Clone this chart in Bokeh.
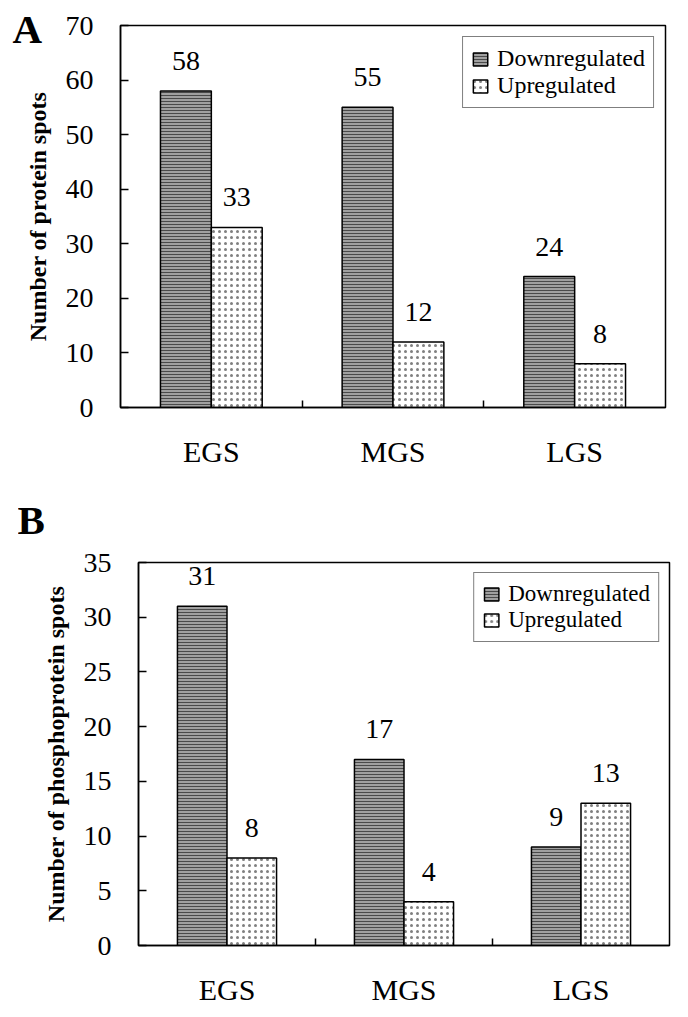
from bokeh.plotting import figure
from bokeh.layouts import column, row
from bokeh.models import FixedTicker, Range1d, ColumnDataSource, Title, Spacer
from bokeh.embed import file_html
from bokeh.resources import INLINE
from bokeh.core.properties import value

# ---- data ----
categories = ["EGS", "MGS", "LGS"]
series_names = ["Downregulated", "Upregulated"]
protein_down = [58, 55, 24]
protein_up = [33, 12, 8]
phospho_down = [31, 17, 9]
phospho_up = [8, 4, 13]
protein_yticks = [0, 10, 20, 30, 40, 50, 60, 70]
phospho_yticks = [0, 5, 10, 15, 20, 25, 30, 35]

FONT = "Liberation Serif"
BAR_W = 0.28


def make_panel(down, up, yticks, ylabel, letter, letter_offset, letter_standoff,
               width, height, borders, legend_font, legend_margin):
    n = len(categories)
    p = figure(width=width, height=height, output_backend="svg", toolbar_location=None,
               x_range=Range1d(0, n), y_range=Range1d(yticks[0], yticks[-1]),
               min_border_left=borders[0], min_border_right=borders[1],
               min_border_top=borders[2], min_border_bottom=borders[3])
    p.background_fill_color = "white"
    p.border_fill_color = "white"
    p.outline_line_color = "black"
    p.outline_line_width = 1.5
    p.xgrid.visible = False
    p.ygrid.visible = False

    p.add_layout(Title(text=letter, align="left", offset=letter_offset,
                       standoff=letter_standoff, vertical_align="bottom",
                       text_font=FONT, text_font_size="41px",
                       text_font_style="bold", text_color="black"), "above")

    xd = [i + 0.5 - BAR_W / 2 for i in range(n)]
    xu = [i + 0.5 + BAR_W / 2 for i in range(n)]
    src_d = ColumnDataSource(dict(x=xd, top=down, lab=[str(v) for v in down]))
    src_u = ColumnDataSource(dict(x=xu, top=up, lab=[str(v) for v in up]))

    p.vbar(x="x", top="top", bottom=0, width=BAR_W, source=src_d,
           fill_color="#a0a0a0", line_color="black", line_width=1.5,
           hatch_pattern="horizontal_line", hatch_color="#4a4a4a", hatch_scale=3,
           hatch_weight=1, legend_label=series_names[0])
    p.vbar(x="x", top="top", bottom=0, width=BAR_W, source=src_u,
           fill_color="white", line_color="black", line_width=1.5,
           hatch_pattern="dot", hatch_color="#808080", hatch_scale=6,
           hatch_weight=1.5, legend_label=series_names[1])

    for src in (src_d, src_u):
        p.text(x="x", y="top", text="lab", source=src, text_align="center",
               text_baseline="alphabetic", y_offset=-30,
               text_font=value(FONT), text_font_size="28px", text_color="black")

    # x axis
    xa = p.xaxis[0]
    xa.ticker = FixedTicker(ticks=[i + 0.5 for i in range(n)],
                            minor_ticks=[i for i in range(1, n)])
    xa.major_label_overrides = {i + 0.5: c for i, c in enumerate(categories)}
    xa.major_tick_in = 0
    xa.major_tick_out = 0
    xa.minor_tick_in = 7
    xa.minor_tick_out = 0
    xa.minor_tick_line_color = "black"
    xa.minor_tick_line_width = 1.5
    xa.axis_line_color = "black"
    xa.axis_line_width = 1.5
    xa.major_label_text_font = FONT
    xa.major_label_text_font_size = "30px"
    xa.major_label_text_color = "black"
    xa.major_label_standoff = 27

    # y axis
    ya = p.yaxis[0]
    ya.ticker = FixedTicker(ticks=yticks, minor_ticks=[])
    ya.major_tick_in = 8
    ya.major_tick_out = 0
    ya.minor_tick_in = 0
    ya.minor_tick_out = 0
    ya.major_tick_line_color = "black"
    ya.major_tick_line_width = 1.5
    ya.axis_line_color = "black"
    ya.axis_line_width = 1.5
    ya.major_label_text_font = FONT
    ya.major_label_text_font_size = "28px"
    ya.major_label_text_color = "black"
    ya.major_label_standoff = 27
    ya.axis_label = ylabel
    ya.axis_label_text_font = FONT
    ya.axis_label_text_font_style = "bold"
    ya.axis_label_text_font_size = "24px"
    ya.axis_label_text_color = "black"
    ya.axis_label_standoff = 12

    # legend
    lg = p.legend[0]
    lg.location = "top_right"
    lg.border_line_color = "black"
    lg.border_line_width = 1.5
    lg.background_fill_color = "white"
    lg.background_fill_alpha = 1
    lg.label_text_font = FONT
    lg.label_text_font_size = legend_font
    lg.label_text_color = "black"
    lg.glyph_width = 18
    lg.glyph_height = 16
    lg.label_standoff = 8
    lg.label_height = 20
    lg.spacing = 0
    lg.padding = 8
    lg.margin = legend_margin
    return p


pA = make_panel(protein_down, protein_up, protein_yticks, "Number of protein spots",
                "A", -108, -52, 672, 472, (120, 7, 25, 65), "24px", 11)
pB = make_panel(phospho_down, phospho_up, phospho_yticks, "Number of phosphoprotein spots",
                "B", -121, 40, 654, 536, (120, 3, 90, 63), "23px", 10)

layout = column(pA, row(Spacer(width=18, height=536), pB, spacing=0), spacing=0)
open("out.html", "w").write(file_html(layout, INLINE))
